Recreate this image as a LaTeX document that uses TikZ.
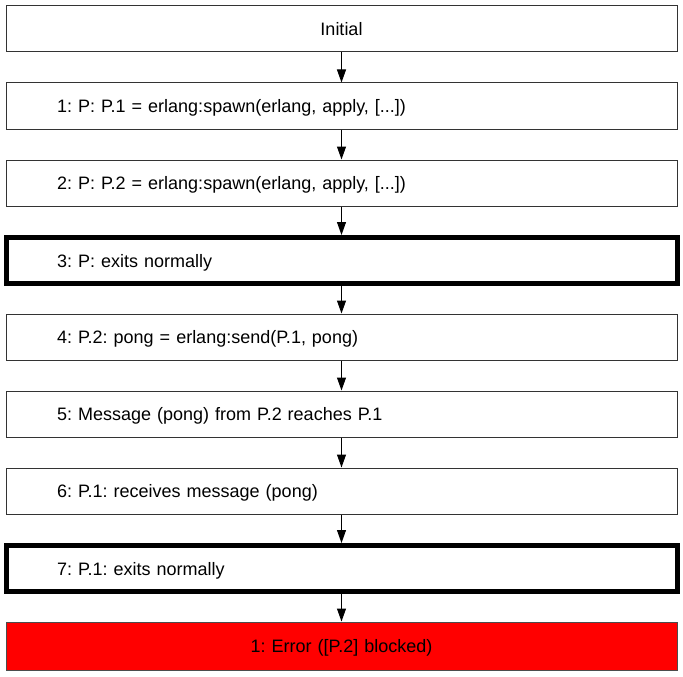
\documentclass[tikz,border=0pt]{standalone}
\usepackage{fontspec}
\setmainfont{Liberation Sans}
\usetikzlibrary{arrows.meta}
\frenchspacing
\tikzset{
  stepbox/.style={draw=black!80, line width=1pt, fill=white, minimum height=46pt,
    text width=569pt, inner xsep=51pt, inner ysep=0pt, align=left,
    text height=13pt, text depth=0pt,
    font=\fontsize{18}{20}\selectfont},
  centerbox/.style={stepbox, align=center},
  thickbox/.style={stepbox, draw=black, line width=5pt},
  errbox/.style={centerbox, fill=red, draw=black!70, minimum height=48pt},
  flow/.style={-{Triangle[width=9pt,length=13pt]}, line width=1pt, black}
}
\begin{document}
\begin{tikzpicture}[x=1pt,y=-1pt]
\useasboundingbox (0,0) rectangle (683,677);
\node[centerbox] (n0) at (341.5,29) {Initial};
\node[stepbox] (n1) at (341.5,106) {1: P: P.1 = erlang:spawn(erlang, apply, [...])};
\node[stepbox] (n2) at (341.5,183) {2: P: P.2 = erlang:spawn(erlang, apply, [...])};
\node[thickbox] (n3) at (341.5,260.5) {3: P: exits normally};
\node[stepbox] (n4) at (341.5,337) {4: P.2: pong = erlang:send(P.1, pong)};
\node[stepbox] (n5) at (341.5,414) {5: Message (pong) from P.2 reaches P.1};
\node[stepbox] (n6) at (341.5,491) {6: P.1: receives message (pong)};
\node[thickbox] (n7) at (341.5,568.5) {7: P.1: exits normally};
\node[errbox] (n8) at (341.5,646) {1: Error ([P.2] blocked)};
\foreach \a/\b in {n0/n1,n1/n2,n2/n3,n3/n4,n4/n5,n5/n6,n6/n7,n7/n8}
  \draw[flow] (\a.south) -- (\b.north);
\end{tikzpicture}
\end{document}
